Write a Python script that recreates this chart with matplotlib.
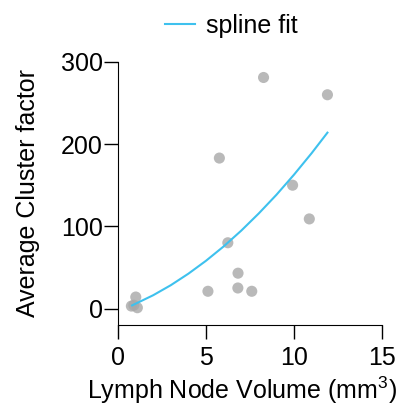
import matplotlib
matplotlib.use("Agg")
import matplotlib.pyplot as plt

plt.rcParams['font.family'] = ['Liberation Sans', 'DejaVu Sans']
plt.rcParams['mathtext.fontset'] = 'custom'
plt.rcParams['mathtext.rm'] = 'Liberation Sans'
plt.rcParams['mathtext.it'] = 'Liberation Sans'

# scatter data
volume = [8.27, 11.9, 5.76, 9.92, 10.87, 6.24, 6.82, 6.81, 5.11, 7.6, 1.01, 0.76, 1.1, 0.9]
cluster = [281, 260, 183, 150, 109, 80, 43, 25, 21, 21, 14, 3, 1, 4]

# spline curve
spline_x = [0.8, 2, 3, 4, 5, 6, 7, 8, 9, 10, 11, 11.9]
spline_y = [3.8, 16.2, 28.4, 42.4, 58.1, 75.5, 94.7, 115.7, 138.3, 162.8, 188.9, 213.9]

fig = plt.figure(figsize=(4.0, 4.07), dpi=100)
ax = fig.add_axes([0.295, 0.2015, 0.66, 0.6465])

ax.scatter(volume, cluster, s=64, color='#a8a8a8', alpha=0.8, edgecolors='none', zorder=2)
ax.plot(spline_x, spline_y, color='#3ec1ee', lw=1.5, label='spline fit', zorder=3)

ax.set_xlim(0, 15)
ax.set_ylim(-20, 300)
ax.set_xticks([0, 5, 10, 15])
ax.set_yticks([0, 100, 200, 300])
ax.spines['top'].set_visible(False)
ax.spines['right'].set_visible(False)
ax.tick_params(direction='out', length=10, width=1, labelsize=18)
ax.tick_params(axis='y', pad=1)
ax.tick_params(axis='x', pad=5)

ax.set_xlabel('Lymph Node Volume (mm$^\\mathrm{3}$)', fontsize=18)
ax.xaxis.set_label_coords(0.47, -0.19)
ax.set_ylabel('Average Cluster factor', fontsize=18, labelpad=15)

ax.legend(loc='center', bbox_to_anchor=(0.428, 1.137), frameon=False, fontsize=18,
          handlelength=1.2, handletextpad=0.45, borderpad=0)

fig.savefig('out.png', dpi=100)
